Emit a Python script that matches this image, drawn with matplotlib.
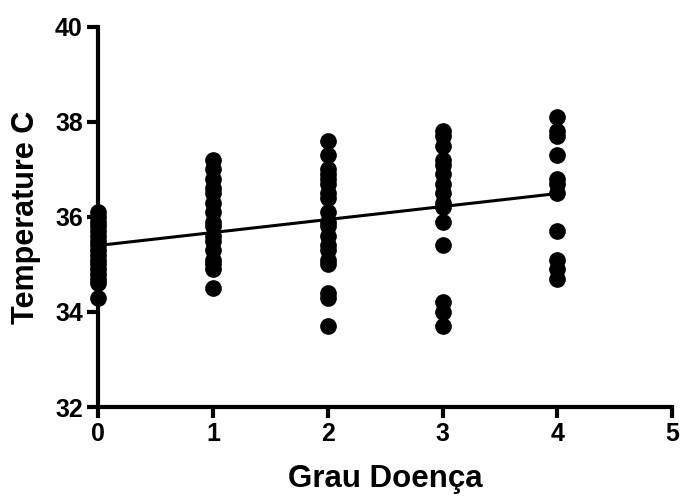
import numpy as np
import matplotlib
matplotlib.use("Agg")
import matplotlib.pyplot as plt

plt.rcParams['font.family'] = ['Liberation Sans', 'DejaVu Sans']
plt.rcParams['font.weight'] = 'bold'

# temperatures per disease grade
grau0 = [36.1, 36.0, 35.9, 35.8, 35.7, 35.6, 35.5, 35.4, 35.3, 35.2, 35.1, 35.0,
         34.9, 34.8, 34.7, 34.6, 34.3]
grau1 = [37.2, 37.0, 36.8, 36.6, 36.5, 36.3, 36.1, 35.9, 35.8, 35.6, 35.5, 35.3,
         35.1, 35.0, 34.9, 34.5]
grau2 = [37.6, 37.3, 37.0, 36.9, 36.8, 36.7, 36.5, 36.4, 36.1, 35.9, 35.8, 35.6,
         35.4, 35.3, 35.1, 35.0, 34.4, 34.3, 33.7]
grau3 = [37.8, 37.7, 37.5, 37.2, 37.1, 36.9, 36.7, 36.5, 36.3, 36.2, 35.9, 35.4,
         34.2, 34.0, 33.7]
grau4 = [38.1, 37.8, 37.7, 37.3, 36.8, 36.7, 36.5, 35.7, 35.1, 34.9, 34.7]
grupos = [grau0, grau1, grau2, grau3, grau4]

xs = np.concatenate([[g] * len(v) for g, v in enumerate(grupos)]).astype(float)
ys = np.concatenate(grupos)

fig = plt.figure(figsize=(6.81, 4.97), dpi=100)
ax = fig.add_axes([0.144, 0.181, 0.843, 0.765])

ax.plot(xs, ys, 'o', color='black', markersize=11, clip_on=False, zorder=3)

# linear regression
coef = np.polyfit(xs, ys, 1)
xl = np.array([0, 4])
ax.plot(xl, np.polyval(coef, xl), color='black', linewidth=2.2, zorder=2)

ax.set_xlim(0, 5)
ax.set_ylim(32, 40)
ax.set_xticks([0, 1, 2, 3, 4, 5])
ax.set_yticks([32, 34, 36, 38, 40])

ax.spines['top'].set_visible(False)
ax.spines['right'].set_visible(False)
for s in ['left', 'bottom']:
    ax.spines[s].set_linewidth(3)
ax.tick_params(direction='out', length=8, width=3, labelsize=18, pad=3)
for lab in ax.get_xticklabels() + ax.get_yticklabels():
    lab.set_fontweight('bold')

ax.set_xlabel('Grau Doença', fontsize=22.5, fontweight='bold', labelpad=13)
ax.set_ylabel('Temperature C', fontsize=22, fontweight='bold', labelpad=10)

fig.savefig('out.png', dpi=100)
